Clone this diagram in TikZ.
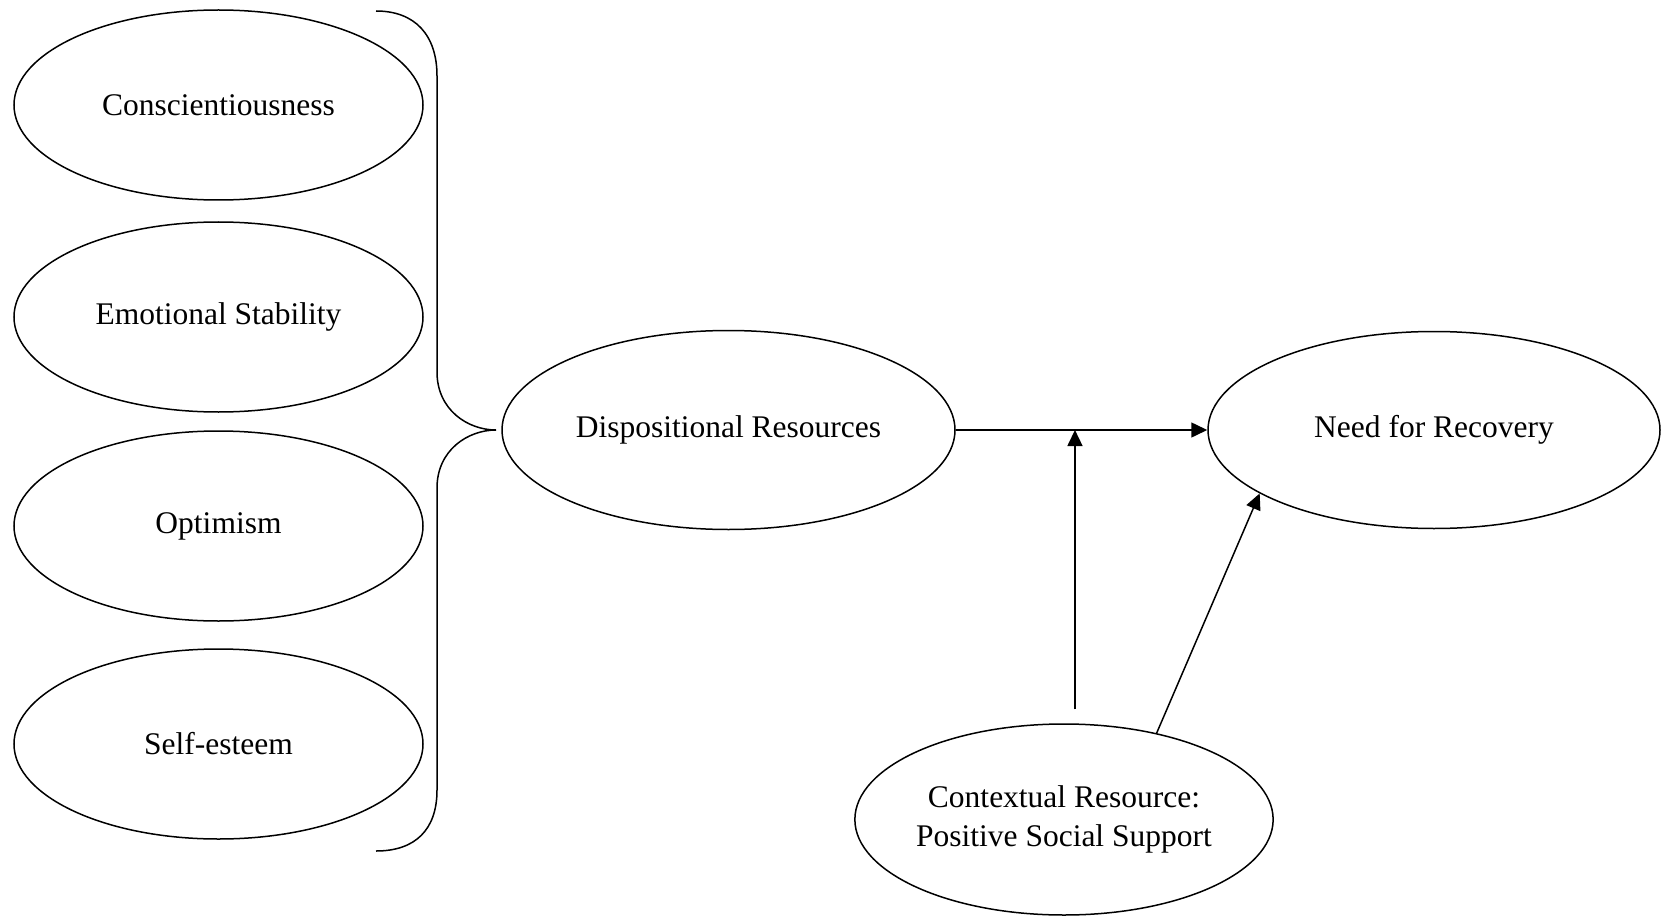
\documentclass[tikz,border=0pt]{standalone}
\usepackage{fontspec}
\setmainfont{Liberation Serif}
\usetikzlibrary{arrows.meta,shapes.geometric}

\begin{document}
\begin{tikzpicture}[
  x=1pt,y=-1pt,
  oval/.style={ellipse,draw,line width=1.5pt,inner sep=0pt,align=center,font=\fontsize{31.5}{39}\selectfont},
  trait/.style={oval,minimum width=409pt,minimum height=190pt},
  arrow/.style={-{Triangle[length=16pt,width=15pt]},line width=1.5pt}
]
\useasboundingbox (0,0) rectangle (1669,917);
\node[trait] (consc) at (218.5,105) {Conscientiousness};
\node[trait] (emostab) at (218.5,317) {Emotional Stability};
\node[trait] (optim) at (218.5,526) {Optimism};
\node[trait] (selfest) at (218.5,744) {Self-esteem};
\node[oval,minimum width=453pt,minimum height=199pt] (dispres) at (728.5,430) {Dispositional Resources};
\node[oval,minimum width=452pt,minimum height=197pt] (needrec) at (1434,430) {Need for Recovery};
\node[oval,minimum width=410pt,minimum height=191pt] (context) at (1064,819.5)
  {Contextual Resource:\\Positive Social Support};
% brace grouping the four traits
\draw[line width=1.5pt] (376,11) .. controls (415,11) and (437,35) .. (437,76) -- (437,372)
  .. controls (437,410) and (468,430) .. (496,430)
  .. controls (468,430) and (437,450) .. (437,488) -- (437,790)
  .. controls (437,830) and (415,851) .. (376,851);
\path (dispres.east) -- (needrec.west) coordinate[pos=0.474] (modpt);
\draw[arrow] (dispres.east) -- (needrec.west);
\draw[arrow,shorten <=14pt] (context.north -| modpt) -- (modpt);
\draw[arrow] (context.43) -- (needrec.200);
\end{tikzpicture}
\end{document}
